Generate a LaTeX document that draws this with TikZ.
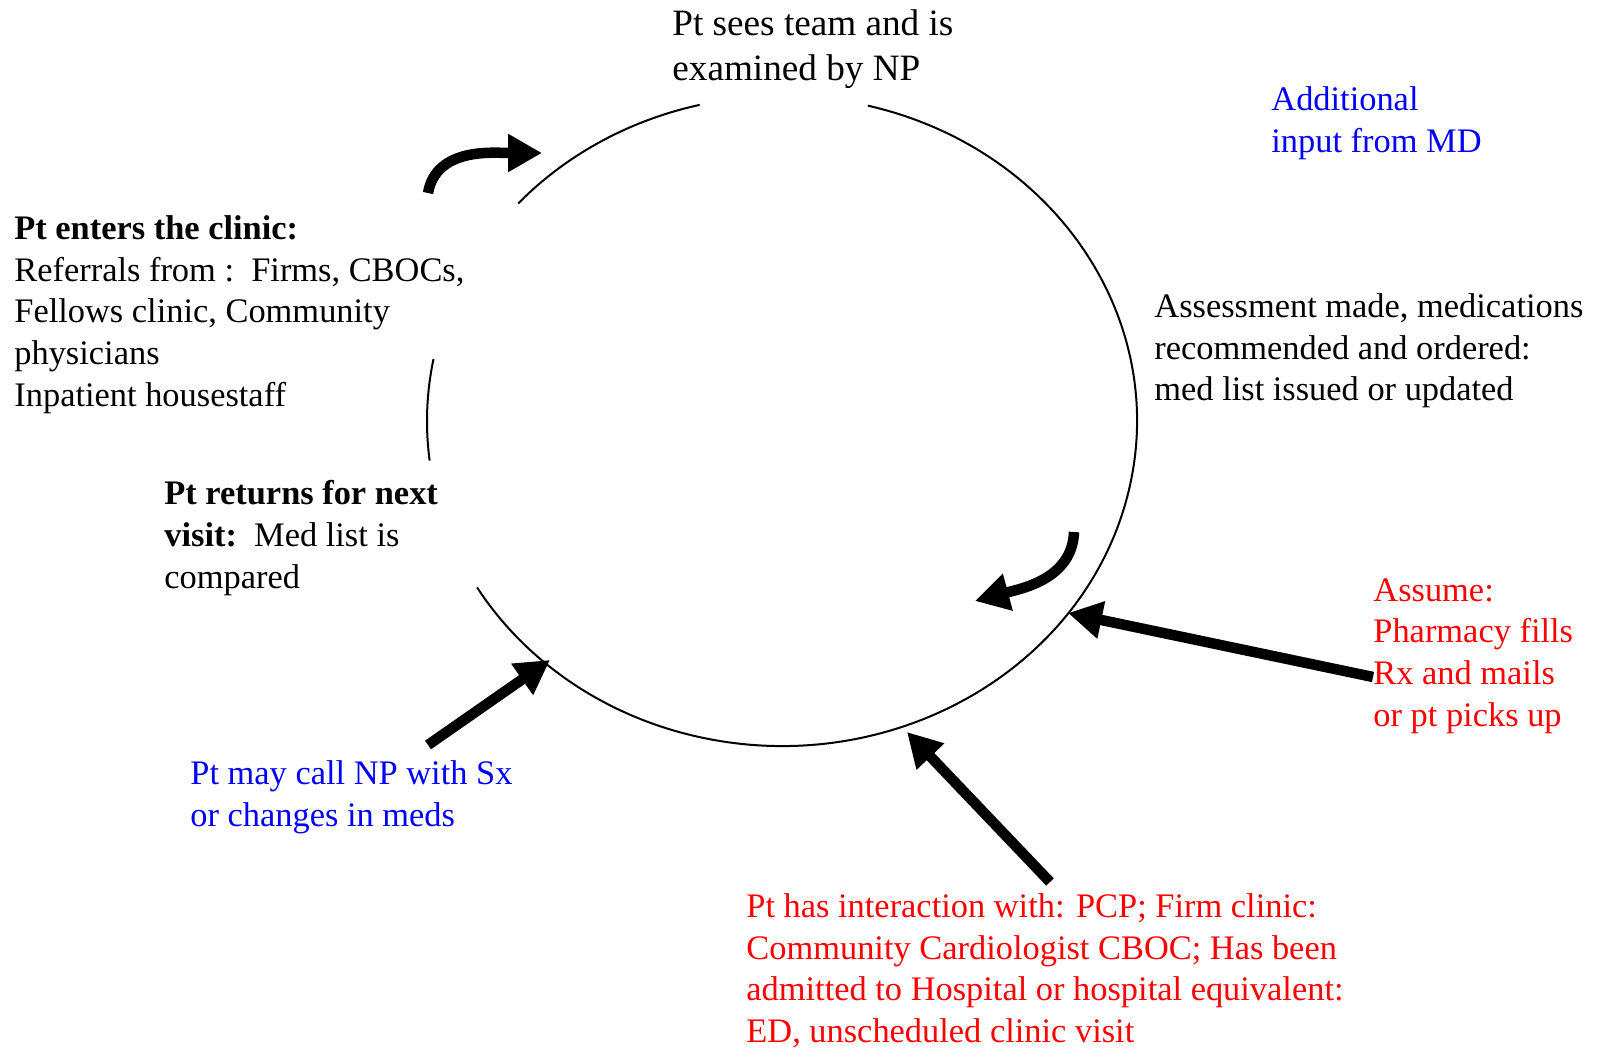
\documentclass[tikz,border=0pt]{standalone}
\usepackage{fontspec}
\setmainfont{Liberation Serif}
\usetikzlibrary{arrows.meta}

\tikzset{
  lbl/.style={anchor=north west, inner sep=0pt, align=left,
    font=\fontsize{17.2}{20.9}\selectfont},
  bigarrow/.style={line width=5.25pt, -{Triangle[length=17pt,width=18pt]}},
}

\begin{document}
\begin{tikzpicture}[x=0.5pt,y=0.5pt]
    \useasboundingbox (0,0) rectangle (1601,-1048);

    % Cycle (ellipse with gaps for the labels)
    \coordinate (ctr) at (782,-421);
    \draw[line width=1pt] (ctr) ++(76:355 and 325) arc[start angle=76, end angle=-149.2, x radius=355, y radius=325];
    \draw[line width=1pt] (ctr) ++(103.4:355 and 325) arc[start angle=103.4, end angle=138, x radius=355, y radius=325];
    \draw[line width=1pt] (ctr) ++(169:355 and 325) arc[start angle=169, end angle=187, x radius=355, y radius=325];

    % Labels round the cycle
    \node[lbl, font=\fontsize{18.6}{22.6}\selectfont] (seen) at (672,-9) {Pt sees team and is\\examined by NP};
    \node[lbl, blue] (md) at (1271,-86) {Additional\\input from MD};
    \node[lbl] (enter) at (14,-215) {\textbf{Pt enters the clinic:}\\Referrals from :\ \ Firms, CBOCs,\\Fellows clinic, Community\\physicians\\Inpatient housestaff};
    \node[lbl] (assess) at (1154,-293) {Assessment made, medications\\recommended and ordered:\\med list issued or updated};
    \node[lbl] (return) at (164,-480) {\textbf{Pt returns for next}\\\textbf{visit:}\ \ Med list is\\compared};
    \node[lbl, red] (pharm) at (1373,-578) {Assume:\\Pharmacy fills\\Rx and mails\\or pt picks up};
    \node[lbl, blue] (call) at (190,-760) {Pt may call NP with Sx\\or changes in meds};
    \node[lbl, red] (inter) at (746,-893) {Pt has interaction with: PCP; Firm clinic:\\Community Cardiologist CBOC; Has been\\admitted to Hospital or hospital equivalent:\\ED, unscheduled clinic visit};

    % Arrow ends
    \coordinate (enterTail) at (428,-193);
    \coordinate (enterTip) at (542,-153);
    \coordinate (assessTail) at (1074,-532);
    \coordinate (assessTip) at (975,-601);
    \coordinate (callTail) at (428,-745);
    \coordinate (callTip) at (550,-660);
    \coordinate (interTail) at (1050,-882);
    \coordinate (interTip) at (907,-732);
    \coordinate (pharmTail) at (1373,-677);
    \coordinate (pharmTip) at (1068,-613);

    % Arrows
    \draw[bigarrow] (enterTail) to[out=80, in=180] (enterTip);
    \draw[bigarrow] (assessTail) to[out=-92, in=15] (assessTip);
    \draw[bigarrow] (callTail) -- (callTip);
    \draw[bigarrow] (interTail) -- (interTip);
    \draw[bigarrow] (pharmTail) -- (pharmTip);

\end{tikzpicture}
\end{document}
